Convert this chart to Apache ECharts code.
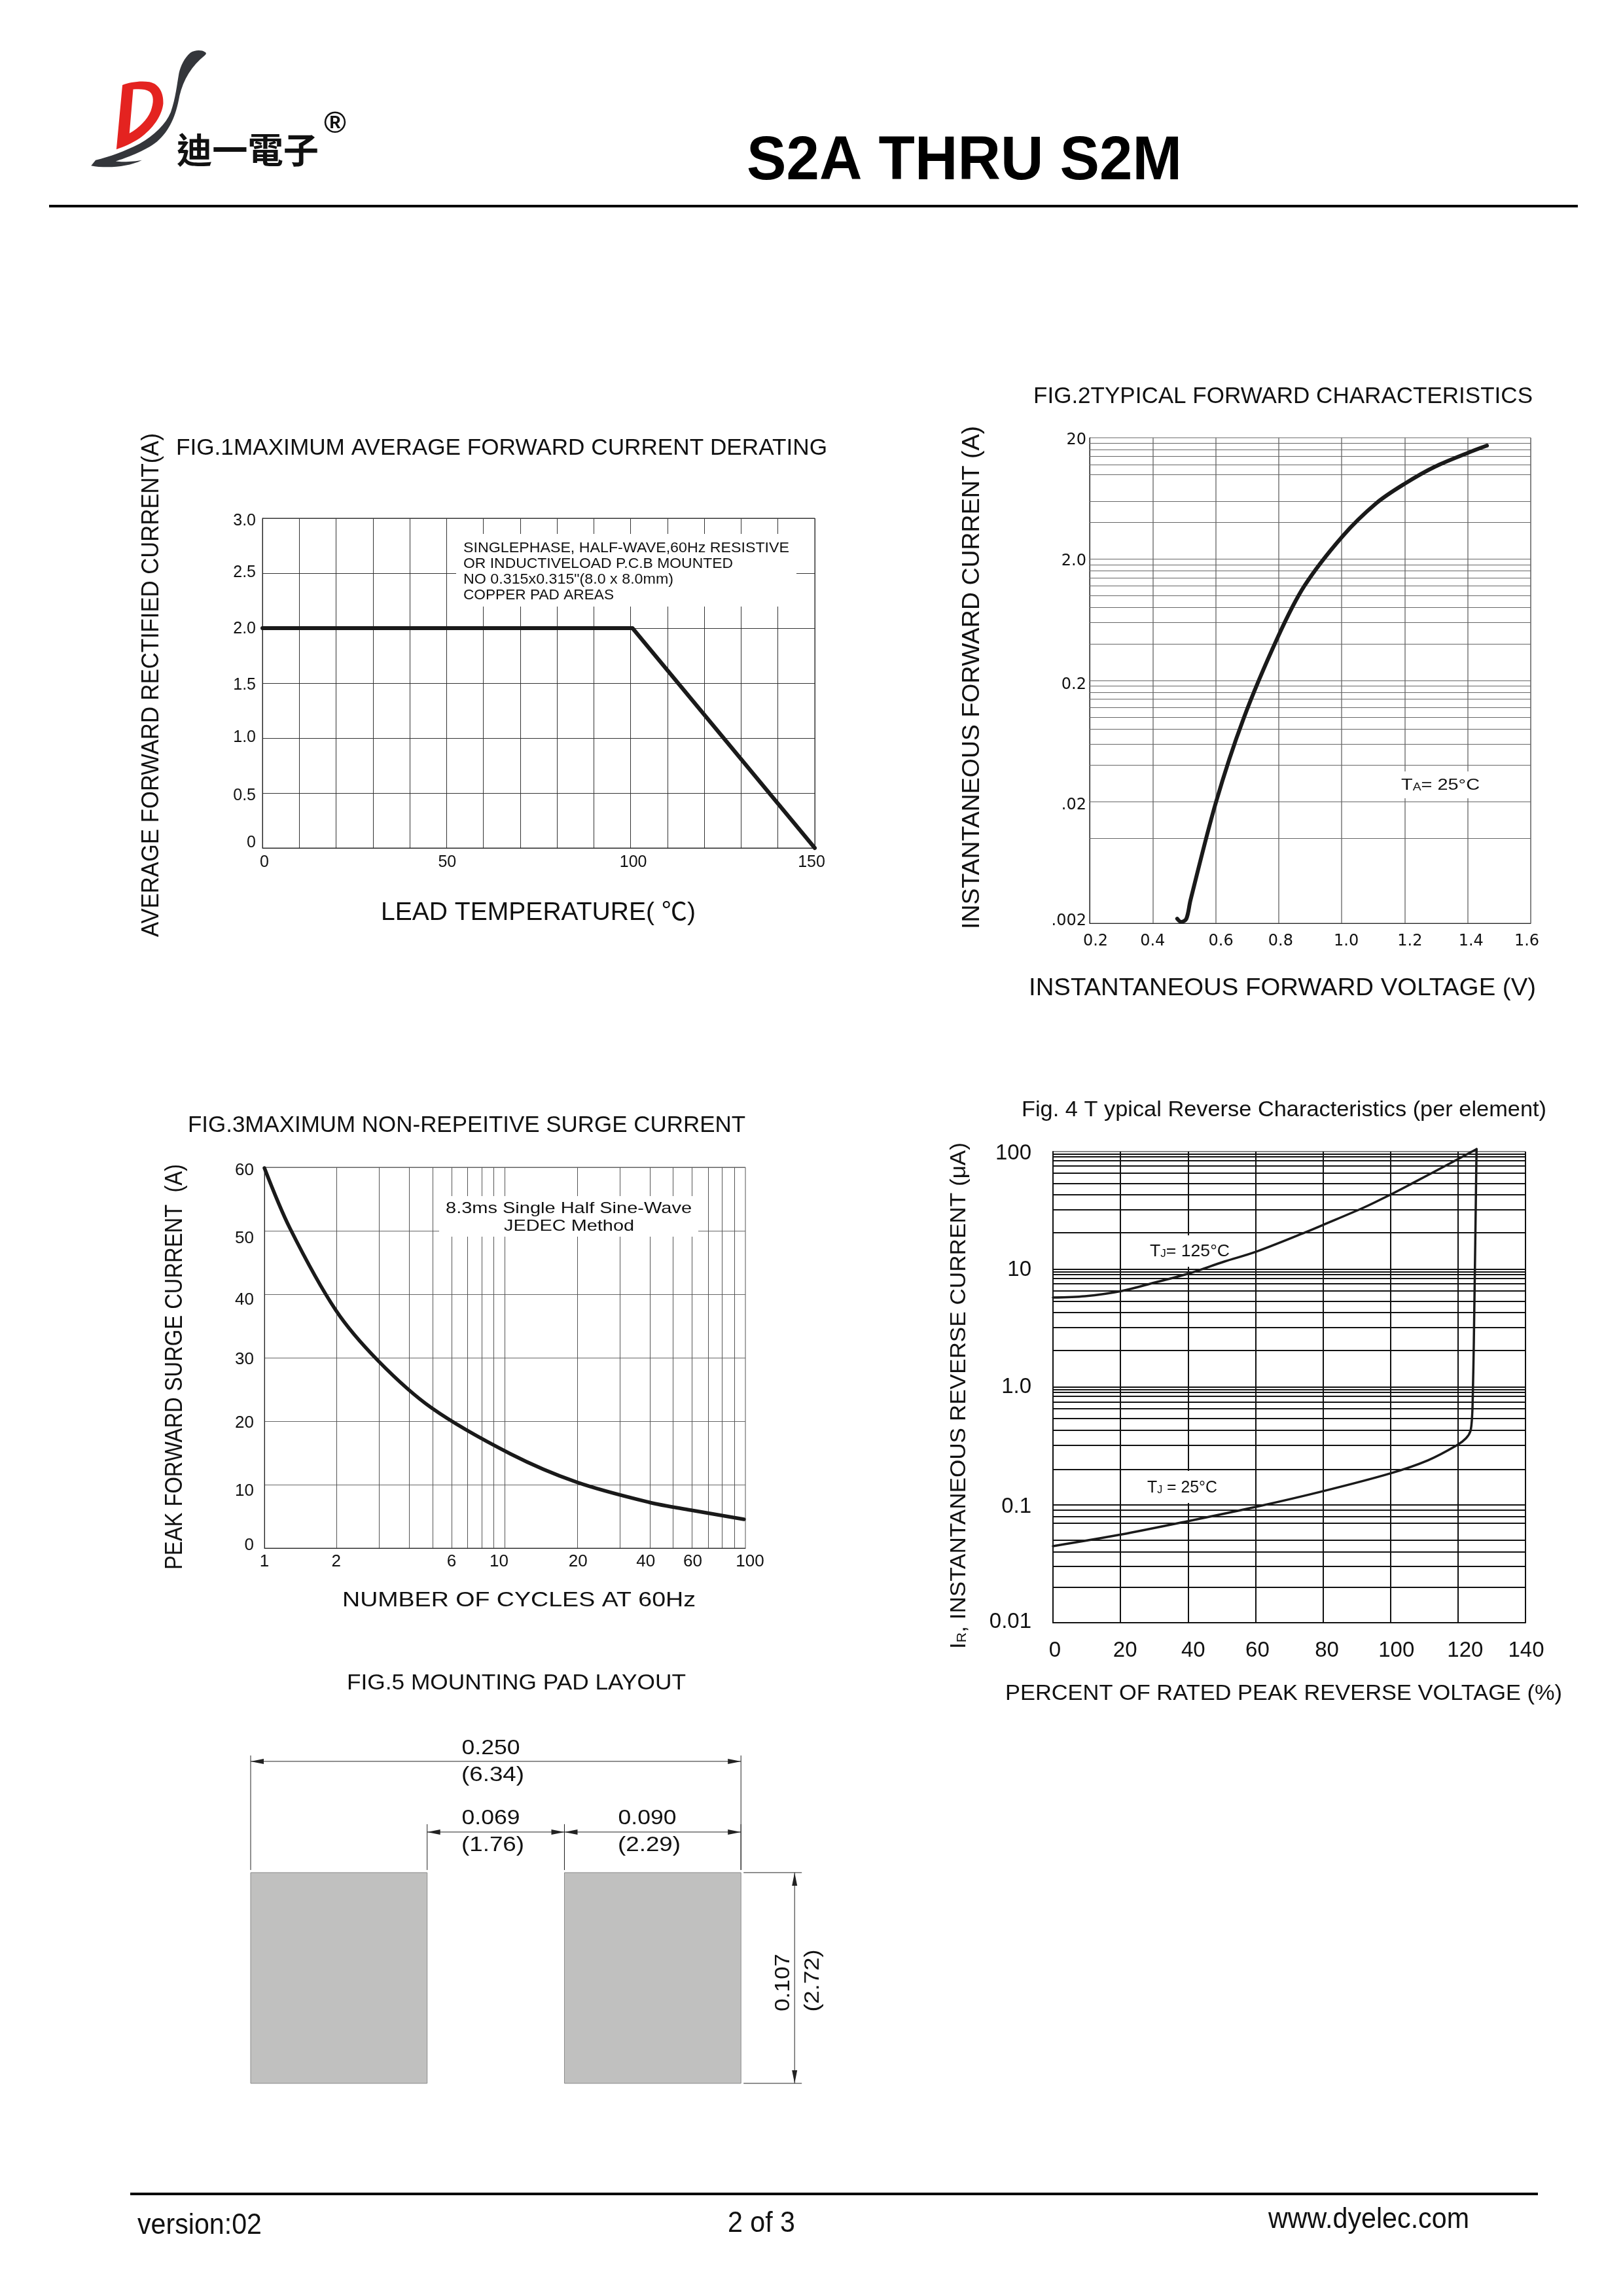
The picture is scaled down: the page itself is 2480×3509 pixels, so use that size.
<!DOCTYPE html>
<html><head><meta charset="utf-8">
<style>html,body{margin:0;padding:0;background:#fff}#c{width:2480px;height:3509px}</style>
<script src="https://cdn.jsdelivr.net/npm/echarts@6/dist/echarts.min.js"></script>
</head><body><div id="c"></div>
<script>
// ---------- data ----------
const fig1Temp = [0, 100.5, 150];
const fig1Current = [2, 2, 0];
const fig1XTicks = [0, 50, 100, 150];
const fig1XLabels = ['0', '50', '100', '150'];
const fig1YTicks = [0, 0.5, 1, 1.5, 2, 2.5, 3];
const fig1YLabels = ['0', '0.5', '1.0', '1.5', '2.0', '2.5', '3.0'];

const fig2Voltage = [0.478, 0.491, 0.507, 0.52, 0.601, 0.688, 0.798, 0.881, 1.002, 1.11, 1.201, 1.297, 1.401, 1.461];
const fig2Current = [0.00218, 0.00205, 0.00218, 0.00309, 0.01987, 0.0962, 0.459, 1.195, 3.07, 5.78, 8.39, 11.58, 15.03, 17.22];
const fig2XTicks = [0.2, 0.4, 0.6, 0.8, 1.0, 1.2, 1.4, 1.6];
const fig2XLabels = ['0.2', '0.4', '0.6', '0.8', '1.0', '1.2', '1.4', '1.6'];
const fig2YTicks = [0.002, 0.02, 0.2, 2, 20];
const fig2YLabels = ['.002', '.02', '0.2', '2.0', '20'];
const fig2YGrid = [0.004, 0.006, 0.008, 0.01, 0.012, 0.014, 0.016, 0.018, 0.02,
  0.04, 0.06, 0.08, 0.1, 0.12, 0.14, 0.16, 0.18, 0.2,
  0.4, 0.6, 0.8, 1, 1.2, 1.4, 1.6, 1.8, 2,
  4, 6, 10, 12, 14, 16, 18];

const fig3Cycles = [1, 1.277, 1.98, 2.975, 4.97, 10.55, 19.86, 39.8, 59.4, 98.7];
const fig3Surge = [59.9, 50.4, 37.5, 29.5, 22.06, 14.85, 10.4, 7.22, 5.98, 4.54];
const fig3XTicks = [1, 2, 6, 10, 20, 40, 60, 100];
const fig3XLabels = ['1', '2', '6', '10', '20', '40', '60', '100'];
const fig3YTicks = [0, 10, 20, 30, 40, 50, 60];
const fig3YLabels = ['0', '10', '20', '30', '40', '50', '60'];
const fig3XGrid = [2, 3, 4, 5, 6, 7, 8, 9, 10, 20, 30, 40, 50, 60, 70, 80, 90];

const fig4Pct125 = [0, 9.5, 20.4, 30.2, 39.8, 50.8, 60.1, 74.9, 80.1, 92.3, 99.9, 106.3, 116.9, 125.5];
const fig4Cur125 = [5.77, 5.92, 6.56, 7.74, 9.14, 11.66, 14.1, 20.7, 23.9, 33.7, 43, 53.5, 77.4, 105];
const fig4Pct25 = [0, 20.4, 39.8, 60.1, 80.1, 99.9, 111.1, 119.6, 122.4, 123.7, 124.2, 124.4, 124.7, 125.5];
const fig4Cur25 = [0.0447, 0.0562, 0.0726, 0.0962, 0.131, 0.185, 0.239, 0.32, 0.369, 0.425, 0.577, 0.88, 2.45, 105];
const fig4XTicks = [0, 20, 40, 60, 80, 100, 120, 140];
const fig4XLabels = ['0', '20', '40', '60', '80', '100', '120', '140'];
const fig4YTicks = [0.01, 0.1, 1, 10, 100];
const fig4YLabels = ['0.01', '0.1', '1.0', '10', '100'];
const fig4YGrid = [0.0205, 0.0323, 0.0432, 0.0538, 0.0655, 0.0753, 0.0836, 0.09, 0.095, 0.1,
  0.205, 0.323, 0.432, 0.538, 0.655, 0.753, 0.836, 0.9, 0.95, 1,
  2.05, 3.23, 4.32, 5.38, 6.55, 7.53, 8.36, 9.0, 9.5, 10,
  20.5, 32.3, 43.2, 53.8, 65.5, 75.3, 83.6, 90, 95];

// fig.5 pad layout, inches
const padStart = [0, 0.16];
const padEnd = [0.09, 0.25];
const padHeight = 0.107;
const dimStart = [0, 0.09, 0.16];
const dimEnd = [0.25, 0.16, 0.25];

// ---------- layout / style ----------
const SANS = '"Liberation Sans","Noto Sans CJK SC",sans-serif';
const INK = '#111';
const ctx = document.createElement('canvas').getContext('2d');
function measure(s, size, weight, family) {
  ctx.font = (weight || 'normal') + ' ' + size + 'px ' + (family || SANS);
  return ctx.measureText(s).width;
}
const graphics = [];
function txt(s, x, y, size, o) {
  o = o || {};
  const fam = o.family || SANS, w = o.weight || 'normal', r = o.rot || 0;
  const sc = o.w ? o.w / measure(s, size, w, fam) : 1;
  const d = size * (r ? 0.11 : 0.08);
  graphics.push({
    type: 'text', x: x + d * Math.sin(r), y: y + d * Math.cos(r), z: o.z || 20, rotation: r, scaleX: sc, silent: true,
    style: { text: s, fontSize: size, fontFamily: fam, fontWeight: w, fill: o.color || INK,
      align: o.align || 'left', verticalAlign: 'middle' }
  });
}
// sequence of text runs laid along a direction; each run: [text, size, downOffset]
function runs(list, x, y, o) {
  o = o || {};
  const r = o.rot || 0, fam = o.family || SANS, wt = o.weight || 'normal';
  const natural = list.reduce((a, p) => a + measure(p[0], p[1], wt, fam), 0);
  const sc = o.w ? o.w / natural : 1;
  let cum = 0;
  list.forEach(p => {
    const d = (p[2] || 0) + list[0][1] * (r ? 0.11 : 0.08);
    const px = x + cum * Math.cos(r) + d * Math.sin(r);
    const py = y - cum * Math.sin(r) + d * Math.cos(r);
    graphics.push({ type: 'text', x: px, y: py, z: 20, rotation: r, scaleX: sc, silent: true,
      style: { text: p[0], fontSize: p[1], fontFamily: fam, fontWeight: wt, fill: o.color || INK, align: 'left', verticalAlign: 'middle' } });
    cum += measure(p[0], p[1], wt, fam) * sc;
  });
}
function mask(x, y, w, h) {
  graphics.push({ type: 'rect', z: 10, silent: true, shape: { x, y, width: w, height: h }, style: { fill: '#fff' } });
}
function rule(x1, x2, y, lw) {
  graphics.push({ type: 'line', z: 10, silent: true, shape: { x1, y1: y, x2, y2: y }, style: { stroke: '#000', lineWidth: lw } });
}

// axis labels with small per-label nudges, matching the hand-placed labels of the original
function labelOpt(values, labels, nudges, isX, size, margin, family) {
  const rich = {};
  values.forEach((v, i) => {
    const n = nudges[i] || 0;
    const pad = isX ? [0, n < 0 ? -2 * n : 0, 0, n > 0 ? 2 * n : 0] : [n > 0 ? 2 * n : 0, 0, n < 0 ? -2 * n : 0, 0];
    rich['n' + i] = { fontSize: size, fontFamily: family || SANS, color: INK, padding: pad };
  });
  return {
    show: true, margin, customValues: values, fontSize: size, fontFamily: family || SANS, color: INK,
    formatter: function (v) {
      let best = 0, bd = Infinity;
      values.forEach((c, i) => { const d = Math.abs(c - v) / (Math.abs(c) + 1e-9); if (d < bd) { bd = d; best = i; } });
      return '{n' + best + '|' + labels[best] + '}';
    },
    rich
  };
}
function axis(type, min, max, gridIndex, label, extra) {
  return Object.assign({
    type, min, max, gridIndex,
    axisLine: { show: true, onZero: false, lineStyle: { color: '#222', width: 1 } },
    axisTick: { show: false }, minorTick: { show: false },
    splitLine: { show: false }, minorSplitLine: { show: false },
    axisLabel: label
  }, extra || {});
}
function gridLines(xi, values, isX, color, width) {
  return { type: 'line', data: [], xAxisIndex: xi, yAxisIndex: xi, z: 1, silent: true, showSymbol: false,
    markLine: { silent: true, animation: false, symbol: 'none', label: { show: false }, lineStyle: { color, width, type: 'solid' }, emphasis: { disabled: true },
      data: values.map(v => isX ? { xAxis: v } : { yAxis: v }) } };
}
function curve(xi, xs, ys, width, smooth) {
  return { type: 'line', xAxisIndex: xi, yAxisIndex: xi, z: 15, silent: true, showSymbol: false, clip: false, smooth,
    lineStyle: { color: '#1a1a1a', width, cap: 'round', join: 'round' }, data: xs.map((x, i) => [x, ys[i]]) };
}
function frame(left, top, right, bottom, color) {
  return { left, top, width: right - left, height: bottom - top, show: true, borderColor: color, borderWidth: 1, backgroundColor: 'transparent', containLabel: false };
}

// ---------- page text ----------
runs([['迪一電子', 54]], 270, 225, { w: 217, family: '"Noto Sans CJK TC"', weight: 'bold' });
txt('®', 512, 187, 46, { align: 'center', weight: 'bold' });
txt('S2A THRU S2M', 1141, 240, 95, { w: 665, weight: 'bold', color: '#000' });
rule(75, 2411, 315, 4);
rule(199, 2350, 3353, 4);
txt('version:02', 210, 3398, 44, { w: 190 });
txt('2 of 3', 1112, 3395, 44, { w: 103 });
txt('www.dyelec.com', 1938, 3389, 44, { w: 307 });

const logoRed = 'M332 240 C360 228 400 220 440 226 C480 235 497 280 495 325 C490 380 455 440 400 485 C370 508 335 525 308 535 Z M375 260 L360 462 C400 435 430 400 445 360 C458 320 458 285 440 270 C425 258 400 258 375 260 Z';
const logoDark = 'M660 88 C650 78 620 78 603 92 C580 115 565 150 558 185 C550 235 545 300 525 365 C505 420 460 470 400 510 C340 545 280 570 225 585 L207 610 C260 622 350 620 410 585 C380 592 330 595 305 590 C345 575 420 545 470 500 C520 450 545 385 560 290 C575 215 610 150 660 105 C668 98 668 92 660 88 Z';

// fig 1
txt('FIG.1MAXIMUM AVERAGE FORWARD CURRENT DERATING', 269, 683, 35, { w: 995 });
txt('AVERAGE FORWARD RECTIFIED CURRENT(A)', 228, 1432, 36, { w: 770, rot: Math.PI / 2 });
txt('LEAD TEMPERATURE( ℃)', 582, 1392, 38, { w: 481 });
mask(697, 816, 520, 111);
txt('SINGLEPHASE, HALF-WAVE,60Hz RESISTIVE', 708, 836, 22, { w: 498 });
txt('OR INDUCTIVELOAD P.C.B MOUNTED', 708, 860, 22, { w: 412 });
txt('NO 0.315x0.315"(8.0 x 8.0mm)', 708, 884, 22, { w: 321 });
txt('COPPER PAD AREAS', 708, 908, 22, { w: 230 });

// fig 2
txt('FIG.2TYPICAL FORWARD CHARACTERISTICS', 1579, 604, 35, { w: 763 });
txt('INSTANTANEOUS FORWARD CURRENT (A)', 1482, 1420, 36, { w: 769, rot: Math.PI / 2 });
txt('INSTANTANEOUS FORWARD VOLTAGE (V)', 1572, 1508, 36, { w: 775 });
mask(2137, 1179, 127, 41);
runs([['T', 24], ['A', 16, 4], ['= 25°C', 24]], 2141, 1198, { w: 120 });

// fig 3
txt('FIG.3MAXIMUM NON-REPEITIVE SURGE CURRENT', 287, 1718, 35, { w: 852 });
txt('PEAK FORWARD SURGE CURRENT  (A)', 264, 2399, 36, { w: 620, rot: Math.PI / 2 });
txt('NUMBER OF CYCLES AT 60Hz', 523, 2444, 31, { w: 540 });
mask(671, 1828, 396, 62);
txt('8.3ms Single Half Sine-Wave', 681, 1845, 24, { w: 376 });
txt('JEDEC Method', 770, 1872, 24, { w: 199 });

// fig 4
txt('Fig. 4 T ypical Reverse Characteristics (per element)', 1561, 1694, 34, { w: 802 });
runs([['I', 33], ['R', 20, 5], [', INSTANTANEOUS REVERSE CURRENT (μA)', 33]], 1462, 2520, { w: 774, rot: Math.PI / 2 });
txt('PERCENT OF RATED PEAK REVERSE VOLTAGE (%)', 1536, 2586, 33, { w: 851 });
mask(1745, 1888, 134, 48);
runs([['T', 25], ['J', 16, 4], ['= 125°C', 25]], 1757, 1911, { w: 122 });
mask(1743, 2248, 131, 49);
runs([['T', 25], ['J', 16, 4], [' = 25°C', 25]], 1753, 2272, { w: 107 });

// fig 5
txt('FIG.5 MOUNTING PAD LAYOUT', 530, 2570, 34, { w: 518 });
txt('0.250', 750, 2670, 31, { w: 89, align: 'center' });
txt('(6.34)', 753, 2711, 31, { w: 96, align: 'center' });
txt('0.069', 750, 2777, 31, { w: 89, align: 'center' });
txt('(1.76)', 753, 2818, 31, { w: 96, align: 'center' });
txt('0.090', 989, 2777, 31, { w: 89, align: 'center' });
txt('(2.29)', 992, 2818, 31, { w: 96, align: 'center' });
txt('0.107', 1194, 3030, 31, { w: 88, align: 'center', rot: Math.PI / 2 });
txt('(2.72)', 1239, 3027, 31, { w: 95, align: 'center', rot: Math.PI / 2 });

// ---------- chart ----------
const dejavu = '"DejaVu Sans",sans-serif';
const option = {
  animation: false,
  backgroundColor: '#fff',
  graphic: { elements: graphics },
  grid: [
    frame(401, 792, 1245, 1296, '#333'),
    frame(1665, 669, 2339, 1411, '#666'),
    frame(404, 1784, 1139, 2366, '#555'),
    frame(1609, 1760, 2331, 2480, '#111'),
    { left: 383, top: 2582, width: 929, height: 602, show: false }
  ],
  xAxis: [
    axis('value', 0, 150, 0, labelOpt(fig1XTicks, fig1XLabels, [3, 1, 4, -5], true, 25, 10), { interval: 10, splitLine: { show: true, lineStyle: { color: '#333', width: 1 } } }),
    axis('value', 0.2, 1.6, 1, labelOpt(fig2XTicks, fig2XLabels, [9, 0, 8, 3, 7, 8, 5, -6], true, 24, 16, dejavu), { interval: 0.2, splitLine: { show: true, lineStyle: { color: '#777', width: 1.5 } } }),
    axis('log', 1, 100, 2, labelOpt(fig3XTicks, fig3XLabels, [0, -1, 0, -9, 1, -6, 1, 7], true, 26, 8)),
    axis('value', 0, 140, 3, labelOpt(fig4XTicks, fig4XLabels, [3, 7, 8, 3, 6, 9, 11, 1], true, 33, 26), { interval: 20, axisLine: { show: true, lineStyle: { color: '#111', width: 2 } }, splitLine: { show: true, lineStyle: { color: '#111', width: 2 } } }),
    { type: 'value', min: 0, max: 0.31, gridIndex: 4, show: false }
  ],
  yAxis: [
    axis('value', 0, 3, 0, labelOpt(fig1YTicks, fig1YLabels, [-8, 4, -1, 3.5, 1, -0.5, 4.5], false, 25, 10), { interval: 0.5, splitLine: { show: true, lineStyle: { color: '#333', width: 1 } } }),
    axis('log', 0.002, 20, 1, labelOpt(fig2YTicks, fig2YLabels, [-3, 5.6, 7, 3, 4], false, 24, 5, dejavu)),
    axis('value', 0, 60, 2, labelOpt(fig3YTicks, fig3YLabels, [-4, 9.7, 2.5, 2.5, 8.6, 12, 4.5], false, 26, 16), { interval: 10, splitLine: { show: true, lineStyle: { color: '#666', width: 1 } } }),
    axis('log', 0.01, 100, 3, labelOpt(fig4YTicks, fig4YLabels, [-1, 3, 0, 1, 3], false, 33, 33), { axisLine: { show: true, lineStyle: { color: '#111', width: 2 } } }),
    { type: 'value', min: 0, max: 0.2, gridIndex: 4, show: false }
  ],
  series: [
    gridLines(1, fig2YGrid, false, '#666', 1),
    gridLines(2, fig3XGrid, true, '#555', 1),
    gridLines(3, fig4YGrid, false, '#111', 2),
    curve(0, fig1Temp, fig1Current, 6, false),
    curve(1, fig2Voltage, fig2Current, 6, 0.33),
    curve(2, fig3Cycles, fig3Surge, 5.5, 0.33),
    curve(3, fig4Pct125, fig4Cur125, 3.5, 0.33),
    curve(3, fig4Pct25, fig4Cur25, 3.5, 0.3),
    {
      type: 'custom', coordinateSystem: 'none', silent: true, z: 6, data: [0], clip: false,
      renderItem() {
        const t = { x: 60, y: 50, scaleX: 0.3827, scaleY: 0.333 };
        return { type: 'group', children: [
          Object.assign({ type: 'path', shape: { pathData: logoRed }, style: { fill: '#e42320' } }, t),
          Object.assign({ type: 'path', shape: { pathData: logoDark }, style: { fill: '#34363b' } }, t)
        ] };
      }
    },
    {
      type: 'custom', xAxisIndex: 4, yAxisIndex: 4, silent: true, z: 3,
      data: padStart.map((s, i) => [s, padEnd[i], padHeight]),
      renderItem(p, api) {
        const a = api.coord([api.value(0), 0]), b = api.coord([api.value(1), api.value(2)]);
        return { type: 'rect', shape: { x: a[0], y: b[1], width: b[0] - a[0], height: a[1] - b[1] }, style: { fill: '#c0c0bf', stroke: '#8a8a8a', lineWidth: 1 } };
      }
    },
    {
      type: 'custom', xAxisIndex: 4, yAxisIndex: 4, silent: true, z: 3, clip: false,
      data: dimStart.map((s, i) => [s, dimEnd[i], padHeight]),
      renderItem(p, api) {
        const top = api.coord([0, api.value(2)])[1];
        const x0 = api.coord([api.value(0), 0])[0], x1 = api.coord([api.value(1), 0])[0];
        const first = p.dataIndex === 0;
        const y = top - (first ? 170 : 62), yTop = top - (first ? 179 : 74);
        const line = (a, b, c, d) => ({ type: 'line', shape: { x1: a, y1: b, x2: c, y2: d }, style: { stroke: '#222', lineWidth: 1 } });
        const arrow = (tip, dir) => ({ type: 'polygon', shape: { points: [[tip, y], [tip + dir * 20, y - 4], [tip + dir * 20, y + 4]] }, style: { fill: '#222' } });
        return { type: 'group', children: [
          line(x0, yTop, x0, top - 4), line(x1, yTop, x1, top - 4), line(x0, y, x1, y), arrow(x0, 1), arrow(x1, -1)
        ] };
      }
    },
    {
      type: 'custom', xAxisIndex: 4, yAxisIndex: 4, silent: true, z: 3, clip: false,
      data: [[0.25, padHeight]],
      renderItem(p, api) {
        const b = api.coord([api.value(0), 0]), t = api.coord([api.value(0), api.value(1)]);
        const line = (a, bb, c, d, col) => ({ type: 'line', shape: { x1: a, y1: bb, x2: c, y2: d }, style: { stroke: col, lineWidth: 1 } });
        const x = b[0] + 82;
        const arrow = (tip, dir) => ({ type: 'polygon', shape: { points: [[x, tip], [x - 4, tip + dir * 20], [x + 4, tip + dir * 20]] }, style: { fill: '#222' } });
        return { type: 'group', children: [
          line(b[0] + 4, t[1], b[0] + 93, t[1], '#222'), line(b[0] + 4, b[1], b[0] + 93, b[1], '#222'),
          line(x, t[1], x, b[1], '#222'), arrow(t[1], 1), arrow(b[1], -1)
        ] };
      }
    }
  ]
};
const chart = echarts.init(document.getElementById('c'), null, { renderer: 'canvas', width: 2480, height: 3509 });
chart.setOption(option);
</script>
</body></html>
